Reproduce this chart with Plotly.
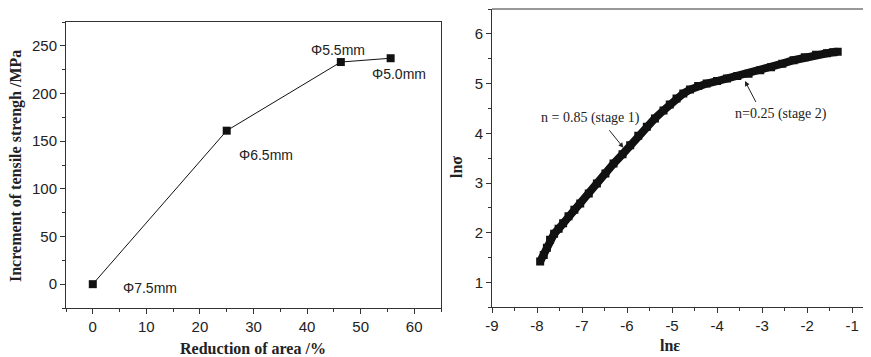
import plotly.graph_objects as go

# Left panel data
reduction = [0, 25, 46.3, 55.6]
increment = [0, 161, 233, 237]
diam_labels = ["Φ7.5mm", "Φ6.5mm", "Φ5.5mm", "Φ5.0mm"]
label_x = [5.2, 27, 40.3, 51.8]
label_y = [-4, 136, 246, 220]
left_xticks = [0, 10, 20, 30, 40, 50, 60]
left_yticks = [0, 50, 100, 150, 200, 250]

# Right panel data (ln strain vs ln stress)
ln_eps = [-7.93, -7.85, -7.78, -7.71, -7.62, -7.52, -7.42, -7.30, -7.17, -7.04,
          -6.85, -6.67, -6.48, -6.30, -6.10, -5.93, -5.75, -5.56, -5.38, -5.19,
          -5.05, -4.90, -4.75, -4.60, -4.42, -4.23, -4.00, -3.78, -3.55, -3.30,
          -3.04, -2.80, -2.55, -2.30, -2.05, -1.80, -1.56, -1.42, -1.32]
ln_sig = [1.42, 1.55, 1.70, 1.86, 1.98, 2.08, 2.19, 2.33, 2.46, 2.59,
          2.79, 2.99, 3.19, 3.39, 3.58, 3.76, 3.95, 4.13, 4.30, 4.46,
          4.58, 4.70, 4.80, 4.88, 4.95, 5.00, 5.05, 5.10, 5.15, 5.20,
          5.27, 5.33, 5.40, 5.47, 5.53, 5.58, 5.61, 5.63, 5.64]
right_xticks = [-9, -8, -7, -6, -5, -4, -3, -2, -1]
right_xlabels = ["-9", "-8", "-7", "-6", "-5", "-4", "-3", "-2", "-1"]
right_yticks = [1, 2, 3, 4, 5, 6]

# page geometry (body has an 8px default margin)
OFF = 8
W, H = 871 - OFF, 357 - OFF


def fx(p):  # page x pixel -> paper fraction
    return (p - OFF) / W


def fy(p):  # page y pixel (from top) -> paper fraction
    return 1 - (p - OFF) / H


AX = "#333333"
TICKFONT = dict(family="Liberation Sans, Arial, sans-serif", size=15, color="#222")
SERIF = "Liberation Serif, Times New Roman, serif"

fig = go.Figure()
fig.add_trace(go.Scatter(x=reduction, y=increment, mode="lines+markers",
                         line=dict(color="#111", width=1),
                         marker=dict(symbol="square", size=8, color="#111"),
                         xaxis="x", yaxis="y", showlegend=False))
fig.add_trace(go.Scatter(x=ln_eps, y=ln_sig, mode="lines+markers",
                         line=dict(color="#111", width=8),
                         marker=dict(symbol="square", size=8, color="#111"),
                         xaxis="x2", yaxis="y2", showlegend=False))

common = dict(showgrid=False, zeroline=False, showline=True, linecolor=AX, linewidth=1,
              ticks="outside", tickcolor=AX, ticklen=5, tickwidth=1, tickfont=TICKFONT,
              automargin=False)

fig.update_layout(
    template="none",
    width=W, height=H, margin=dict(l=0, r=0, t=0, b=0, pad=0),
    paper_bgcolor="white", plot_bgcolor="white",
    xaxis=dict(domain=[fx(66), fx(441)], range=[-5, 65], tickmode="array",
               tickvals=left_xticks, mirror=True,
               minor=dict(dtick=5, tick0=0, ticklen=3, tickcolor=AX, ticks="outside"),
               anchor="y", **common),
    yaxis=dict(domain=[fy(308), fy(22)], range=[-25, 275], tickmode="array",
               tickvals=left_yticks, mirror=True,
               minor=dict(dtick=25, tick0=0, ticklen=3, tickcolor=AX, ticks="outside"),
               anchor="x", **common),
    xaxis2=dict(domain=[fx(492), 1.0], range=[-9, -0.58], tickmode="array",
                tickvals=right_xticks, ticktext=right_xlabels,
                minor=dict(dtick=0.5, tick0=-9, ticklen=3, tickcolor=AX, ticks="outside"),
                anchor="y2", **common),
    yaxis2=dict(domain=[fy(307.3), fy(9)], range=[0.5, 6.5], tickmode="array",
                tickvals=right_yticks,
                minor=dict(dtick=0.5, tick0=0, ticklen=3, tickcolor=AX, ticks="outside"),
                anchor="x2", **common),
)
# top border of the right panel (its right border lies outside the picture)
fig.add_shape(type="line", xref="paper", yref="paper", x0=fx(492), x1=1.0,
              y0=fy(9), y1=fy(9), line=dict(color=AX, width=1))

annos = []
for t, x, y in zip(diam_labels, label_x, label_y):
    annos.append(dict(x=x, y=y, xref="x", yref="y", text=t, showarrow=False,
                      xanchor="left", yanchor="middle",
                      font=dict(family="Liberation Sans, Arial, sans-serif", size=14, color="#222")))

# axis titles
annos.append(dict(x=fx(16), y=fy(166), xref="paper", yref="paper", xanchor="center",
                  yanchor="middle",
                  text="<b>Increment of tensile strengh /MPa</b>", textangle=-90,
                  showarrow=False, font=dict(family=SERIF, size=16, color="#222")))
annos.append(dict(x=fx(253), y=fy(348), xref="paper", yref="paper", xanchor="center",
                  yanchor="middle",
                  text="<b>Reduction of area /%</b>", showarrow=False,
                  font=dict(family=SERIF, size=16, color="#222")))
annos.append(dict(x=fx(456), y=fy(167), xref="paper", yref="paper", xanchor="center",
                  yanchor="middle",
                  text="<b>lnσ</b>", textangle=-90, showarrow=False,
                  font=dict(family=SERIF, size=16, color="#222")))
annos.append(dict(x=fx(670), y=fy(345), xref="paper", yref="paper", xanchor="center",
                  yanchor="middle",
                  text="<b>lnε</b>", showarrow=False,
                  font=dict(family=SERIF, size=16, color="#222")))

# stage annotations
annos.append(dict(x=-6.82, y=4.30, xref="x2", yref="y2", text="n = 0.85 (stage 1)",
                  showarrow=False, font=dict(family=SERIF, size=14, color="#222")))
annos.append(dict(x=-6.08, y=3.71, ax=-6.42, ay=4.09, xref="x2", yref="y2",
                  axref="x2", ayref="y2", text="", showarrow=True, arrowhead=2,
                  arrowsize=1, arrowwidth=1, arrowcolor="#222"))
annos.append(dict(x=-2.58, y=4.38, xref="x2", yref="y2", text="n=0.25 (stage 2)",
                  showarrow=False, font=dict(family=SERIF, size=14, color="#222")))
annos.append(dict(x=-3.38, y=5.05, ax=-3.12, ay=4.60, xref="x2", yref="y2",
                  axref="x2", ayref="y2", text="", showarrow=True, arrowhead=2,
                  arrowsize=1, arrowwidth=1, arrowcolor="#222"))

fig.update_layout(annotations=annos)
fig.write_html("out.html")
